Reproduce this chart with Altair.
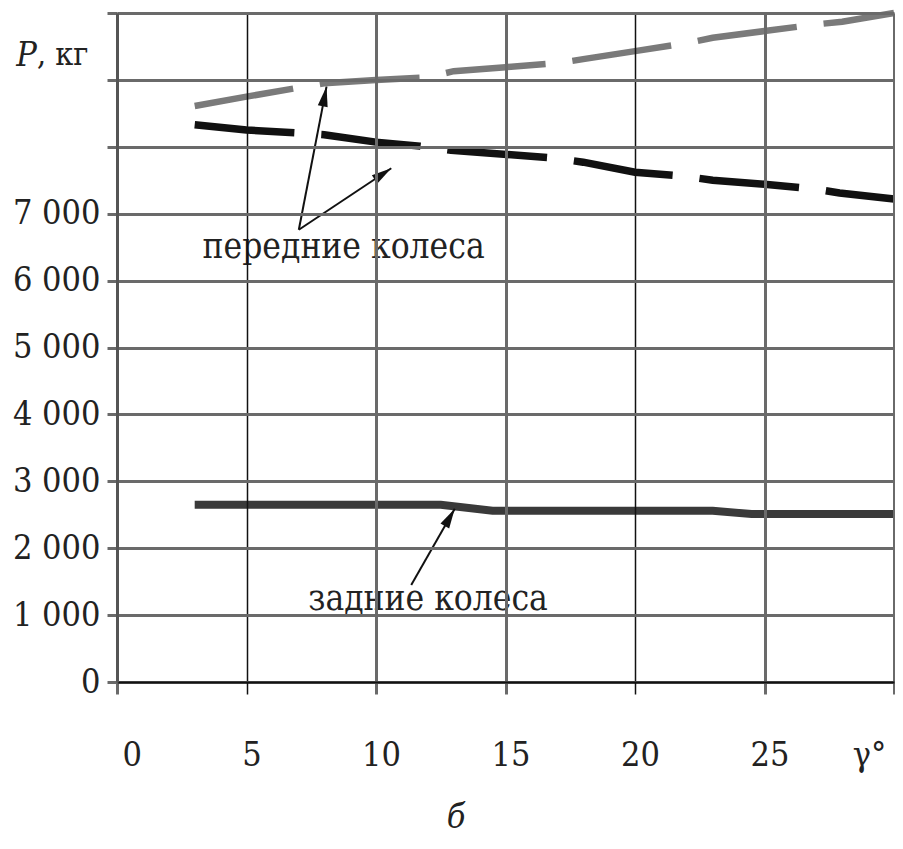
import math
import altair as alt
import pandas as pd

# ---- data ----
front1_x = [3, 5, 8, 10, 12, 13, 15, 17, 18, 20, 22, 23, 25, 27, 28, 30]
front1_p = [8610, 8750, 8950, 9000, 9040, 9130, 9190, 9250, 9310, 9430, 9550, 9630, 9730, 9830, 9870, 10000]

front2_x = [3, 5, 6.9, 8, 10, 11.7, 12.9, 16.9, 18, 20, 21.9, 23, 25, 26.9, 27.9, 30]
front2_p = [8330, 8250, 8210, 8180, 8070, 8010, 7950, 7830, 7770, 7620, 7560, 7500, 7440, 7370, 7310, 7220]

rear_x = [3, 12.5, 14.5, 23, 24.5, 30]
rear_p = [2650, 2650, 2560, 2560, 2510, 2510]

x_ticks = [0, 5, 10, 15, 20, 25, 30]
y_ticks = [0, 1000, 2000, 3000, 4000, 5000, 6000, 7000, 8000, 9000, 10000]

labels_text = ["передние колеса", "задние колеса"]
labels_x = [8.75, 12.01]
labels_p = [6338, 1076]

arrow_x0 = [7.02, 7.02, 11.36]
arrow_p0 = [6760, 6760, 1450]
arrow_x1 = [8.09, 10.59, 13.04]
arrow_p1 = [8900, 7680, 2590]

W, H = 777, 669
FONT = "DejaVu Serif Condensed, DejaVu Serif"
TXT = "#222222"

sx = W / 30.0
sy = H / 10000.0
angles = []
for a, b, c, d in zip(arrow_x0, arrow_p0, arrow_x1, arrow_p1):
    dxp = (c - a) * sx
    dyp = -(d - b) * sy
    angles.append(math.degrees(math.atan2(dxp, -dyp)) % 360)

f1 = pd.DataFrame({"g": front1_x, "p": front1_p})
f2 = pd.DataFrame({"g": front2_x, "p": front2_p})
rr = pd.DataFrame({"g": rear_x, "p": rear_p})
lab = pd.DataFrame({"t": labels_text, "g": labels_x, "p": labels_p})
arr = pd.DataFrame({"g0": arrow_x0, "p0": arrow_p0, "g1": arrow_x1, "p1": arrow_p1, "a": angles})

xscale = alt.Scale(domain=[0, 30], nice=False, zero=False)
yscale = alt.Scale(domain=[0, 10000], nice=False)

thin_test = "datum.value === 5 || datum.value === 20"

x_axis = alt.Axis(
    values=x_ticks,
    labelExpr="datum.value === 30 ? '' : datum.label",
    labelFont=FONT, labelFontSize=34, labelColor=TXT,
    labelBaseline="alphabetic", labelPadding=71, labelOffset=5,
    tickSize=12,
    tickColor={"condition": {"test": thin_test, "value": "#111111"}, "value": "#6a6a6a"},
    tickWidth={"condition": {"test": thin_test, "value": 1.5}, "value": 3},
    gridColor={"condition": {"test": thin_test, "value": "#111111"}, "value": "#6a6a6a"},
    gridWidth={"condition": {"test": thin_test, "value": 1.5}, "value": 3},
    gridOpacity=1,
    domainColor="#111111", domainWidth=2,
    title="γ°", titleFont=FONT, titleFontSize=34, titleFontWeight="normal",
    titleColor=TXT, titleX=752, titleY=83, titleAlign="center",
    titleBaseline="alphabetic",
    zindex=1,
)

y_axis = alt.Axis(
    values=y_ticks,
    labelExpr="datum.value > 7000 ? '' : (datum.value === 0 ? '0' : floor(datum.value / 1000) + ' 000')",
    labelFont=FONT, labelFontSize=34, labelColor=TXT, labelPadding=7,
    labelBaseline="middle",
    tickSize=10, tickColor="#6a6a6a", tickWidth=3,
    gridColor="#6a6a6a", gridWidth=3, gridOpacity=1,
    domainColor="#555555", domainWidth=3,
    title="P", titleFont=FONT, titleFontSize=34, titleFontStyle="italic",
    titleFontWeight="normal", titleColor=TXT, titleAngle=0,
    titleX=-91, titleY=52, titleAlign="center", titleBaseline="alphabetic",
    zindex=1,
)

base_x = alt.X("g:Q", scale=xscale, axis=x_axis)
base_y = alt.Y("p:Q", scale=yscale, axis=y_axis)

line1 = alt.Chart(f1).mark_line(color="#7a7a7a", strokeWidth=6.5, strokeDash=[100, 27]).encode(
    x=base_x, y=base_y)
line2 = alt.Chart(f2).mark_line(color="#111111", strokeWidth=7.5, strokeDash=[100, 27]).encode(
    x=alt.X("g:Q", scale=xscale), y=alt.Y("p:Q", scale=yscale))
line3 = alt.Chart(rr).mark_line(color="#3a3a3a", strokeWidth=8).encode(
    x=alt.X("g:Q", scale=xscale), y=alt.Y("p:Q", scale=yscale))

shafts = alt.Chart(arr).mark_rule(color="#111111", strokeWidth=2).encode(
    x=alt.X("g0:Q", scale=xscale), y=alt.Y("p0:Q", scale=yscale),
    x2="g1:Q", y2="p1:Q")
heads = alt.Chart(arr).mark_point(
    shape="M0,0L0.5,2L-0.5,2Z", filled=True, color="#111111", opacity=1, size=400,
).encode(
    x=alt.X("g1:Q", scale=xscale), y=alt.Y("p1:Q", scale=yscale),
    angle=alt.Angle("a:Q", scale=None))

texts = alt.Chart(lab).mark_text(
    font=FONT, fontSize=35, color=TXT, align="center", baseline="alphabetic"
).encode(x=alt.X("g:Q", scale=xscale), y=alt.Y("p:Q", scale=yscale), text="t:N")

unit = alt.Chart(pd.DataFrame({"t": [", кг"]})).mark_text(
    font=FONT, fontSize=32, color=TXT, align="left", baseline="alphabetic"
).encode(x=alt.value(-80), y=alt.value(52), text="t:N")

sub = alt.Chart(pd.DataFrame({"t": ["б"]})).mark_text(
    font=FONT, fontSize=34, fontStyle="italic", color=TXT, align="center", baseline="alphabetic"
).encode(x=alt.value(339), y=alt.value(815), text="t:N")

chart = alt.layer(line1, line2, line3, shafts, heads, texts, unit, sub).properties(
    width=W, height=H,
    autosize=alt.AutoSizeParams(type="none"),
    padding={"left": 109, "top": 5, "right": 1, "bottom": 159},
).configure_view(stroke=None).configure(background="white", font=FONT)

chart.save("out.html", embed_options={"renderer": "svg", "actions": False})
